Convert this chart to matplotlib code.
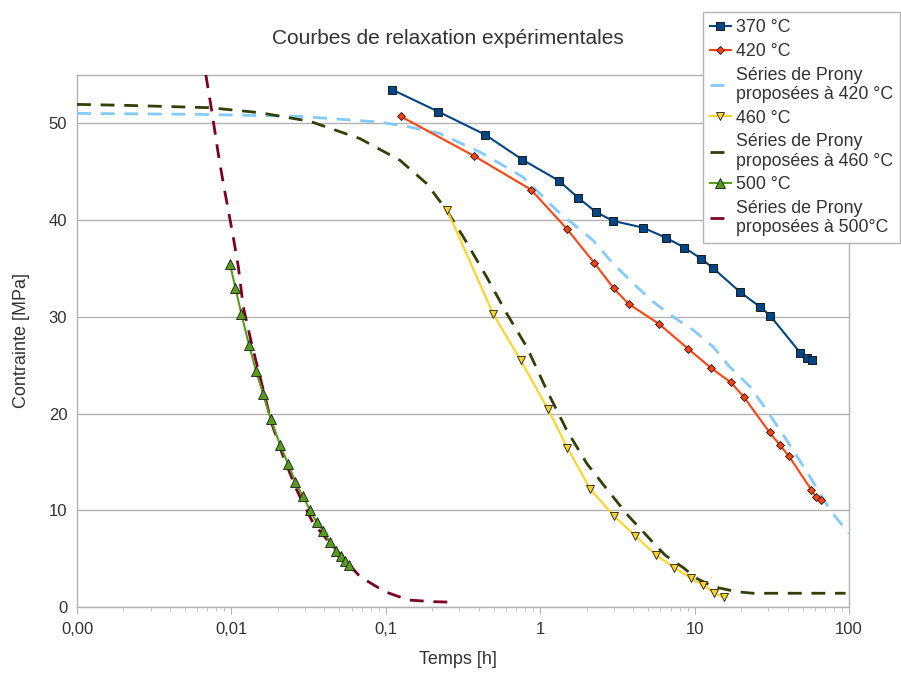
import matplotlib
matplotlib.use("Agg")
import matplotlib.pyplot as plt
from matplotlib.ticker import FixedLocator, FixedFormatter, LogLocator, NullFormatter

plt.rcParams['font.family'] = ['Liberation Sans', 'DejaVu Sans']

# ---- data ----
t370 = [0.110, 0.219, 0.440, 0.766, 1.318, 1.757, 2.307, 2.974, 4.63, 6.50, 8.58, 11.0, 13.15, 19.77, 26.6, 30.8, 48.4, 53.2, 57.8]
s370 = [53.48, 51.21, 48.83, 46.25, 44.08, 42.32, 40.81, 39.91, 39.22, 38.19, 37.16, 36.02, 35.05, 32.54, 31.02, 30.13, 26.27, 25.72, 25.52]

t420 = [0.125, 0.374, 0.871, 1.492, 2.24, 2.99, 3.74, 5.88, 9.10, 12.83, 17.2, 20.8, 30.6, 35.7, 40.7, 57.0, 60.8, 65.6]
s420 = [50.72, 46.62, 43.15, 39.08, 35.57, 32.95, 31.33, 29.27, 26.68, 24.69, 23.21, 21.73, 18.05, 16.74, 15.63, 12.12, 11.39, 11.02]

tp420 = [0.001, 0.00627, 0.0278, 0.0916, 0.1435, 0.2244, 0.407, 0.774, 1.279, 2.198, 2.90, 4.01, 5.40, 7.28, 9.81, 13.2, 16.9, 22.9, 29.3, 39.5, 55.9, 75.3, 100]
sp420 = [51.03, 50.93, 50.72, 50.13, 49.62, 48.94, 47.04, 44.45, 41.01, 37.91, 35.67, 33.44, 31.54, 29.99, 28.62, 26.89, 24.82, 22.76, 20.35, 17.25, 13.46, 10.02, 7.61]

t460 = [0.250, 0.497, 0.748, 1.123, 1.50, 2.11, 2.99, 4.13, 5.62, 7.39, 9.52, 11.4, 13.4, 15.5]
s460 = [41.01, 30.27, 25.49, 20.45, 16.46, 12.19, 9.43, 7.37, 5.37, 4.06, 2.96, 2.24, 1.45, 1.00]

tp460 = [0.001, 0.0021, 0.00726, 0.0153, 0.0323, 0.0681, 0.1236, 0.184, 0.248, 0.318, 0.450, 0.607, 0.818, 1.102, 1.485, 2.00, 2.70, 3.72, 4.90, 6.43, 8.45, 10.3, 13.2, 18.7, 24.0, 95.0]
sp460 = [51.96, 51.86, 51.62, 51.10, 50.21, 48.42, 46.18, 43.77, 41.01, 38.25, 34.12, 30.34, 26.89, 22.42, 18.29, 14.85, 12.19, 9.43, 7.37, 5.37, 4.06, 2.96, 2.10, 1.58, 1.42, 1.42]

t500 = [0.00980, 0.01060, 0.01159, 0.0130, 0.01442, 0.01603, 0.01803, 0.02065, 0.02338, 0.02594, 0.02897, 0.03244, 0.03562, 0.03935, 0.04355, 0.04775, 0.0515, 0.0545, 0.0575]
s500 = [35.43, 33.03, 30.34, 27.10, 24.45, 22.04, 19.39, 16.77, 14.74, 12.95, 11.44, 9.99, 8.75, 7.88, 6.68, 5.82, 5.27, 4.72, 4.37]

tp500 = [0.0066, 0.00684, 0.00745, 0.00822, 0.00887, 0.00955, 0.01028, 0.01109, 0.01194, 0.01351, 0.01570, 0.01824, 0.0217, 0.0265, 0.0339, 0.0457, 0.0681, 0.0989, 0.140, 0.203, 0.281]
sp500 = [57.5, 54.96, 51.34, 46.87, 43.77, 41.01, 38.25, 35.16, 31.02, 27.24, 23.11, 18.98, 15.53, 12.09, 8.65, 6.23, 3.13, 1.58, 0.72, 0.55, 0.49]

xticks = [0.001, 0.01, 0.1, 1, 10, 100]
xticklabels = ["0,00", "0,01", "0,1", "1", "10", "100"]
yticks = [0, 10, 20, 30, 40, 50]

title = "Courbes de relaxation expérimentales"
labels = ["370 °C", "420 °C", "Séries de Prony\nproposées à 420 °C", "460 °C",
          "Séries de Prony\nproposées à 460 °C", "500 °C", "Séries de Prony\nproposées à 500°C"]

# ---- figure ----
W, H = 901, 673
fig = plt.figure(figsize=(W / 100, H / 100), dpi=100)
ax = fig.add_axes([77 / W, 1 - 607 / H, (849 - 77) / W, (607 - 75) / H])

txt = '#333333'
grid = '#b3b3b3'
dash = (5, 3.5)

l1, = ax.plot(t370, s370, color='#004586', lw=1.5, marker='s', ms=6, mfc='#004586', mec='#1a1a1a', mew=0.7, zorder=5)
l2, = ax.plot(t420, s420, color='#ff420e', lw=1.5, marker='D', ms=4, mfc='#ff420e', mec='#1a1a1a', mew=0.6, zorder=5)
l3, = ax.plot(tp420, sp420, color='#83caff', lw=2.0, dashes=dash, zorder=4)
l4, = ax.plot(t460, s460, color='#ffd320', lw=1.5, marker='v', ms=6, mfc='#ffd320', mec='#1a1a1a', mew=0.6, zorder=5)
l5, = ax.plot(tp460, sp460, color='#314004', lw=2.0, dashes=dash, zorder=4)
l6, = ax.plot(t500, s500, color='#579d1c', lw=1.5, marker='^', ms=6.5, mfc='#579d1c', mec='#1a1a1a', mew=0.6, zorder=5)
l7, = ax.plot(tp500, sp500, color='#7e0021', lw=2.0, dashes=dash, zorder=4)

ax.set_xscale('log')
ax.set_xlim(0.001, 100)
ax.set_ylim(0, 55)

ax.xaxis.set_major_locator(FixedLocator(xticks))
ax.xaxis.set_major_formatter(FixedFormatter(xticklabels))
ax.xaxis.set_minor_locator(LogLocator(base=10, subs=range(2, 10)))
ax.xaxis.set_minor_formatter(NullFormatter())
ax.set_yticks(yticks)

ax.tick_params(axis='x', which='major', direction='out', length=5, color=grid, labelsize=12, labelcolor=txt, pad=6)
ax.tick_params(axis='x', which='minor', direction='out', length=3, color=grid)
ax.tick_params(axis='y', which='both', length=0, labelsize=12, labelcolor=txt, pad=7)

ax.grid(True, axis='y', color=grid, lw=1)
ax.set_axisbelow(True)
for s in ax.spines.values():
    s.set_color(grid)
    s.set_linewidth(1)

fig.text(448 / W, 1 - 38 / H, title, ha='center', va='center', fontsize=15, color=txt)
fig.text(458 / W, 1 - 659 / H, "Temps [h]", ha='center', va='center', fontsize=13, color=txt)
fig.text(22 / W, 1 - 341 / H, "Contrainte [MPa]", ha='center', va='center', rotation=90, fontsize=13, color=txt)

leg = fig.legend([l1, l2, l3, l4, l5, l6, l7], labels, loc='upper left',
                 bbox_to_anchor=(703 / W, 1 - 12 / H), fontsize=12.8,
                 frameon=True, fancybox=False, edgecolor=grid, framealpha=1,
                 handlelength=1.15, handletextpad=0.3, labelspacing=0.38,
                 borderpad=0.4, borderaxespad=0)
leg.get_frame().set_linewidth(1)
for t in leg.get_texts():
    t.set_color(txt)
    t.set_linespacing(1.17)

fig.savefig('out.png', dpi=100)
